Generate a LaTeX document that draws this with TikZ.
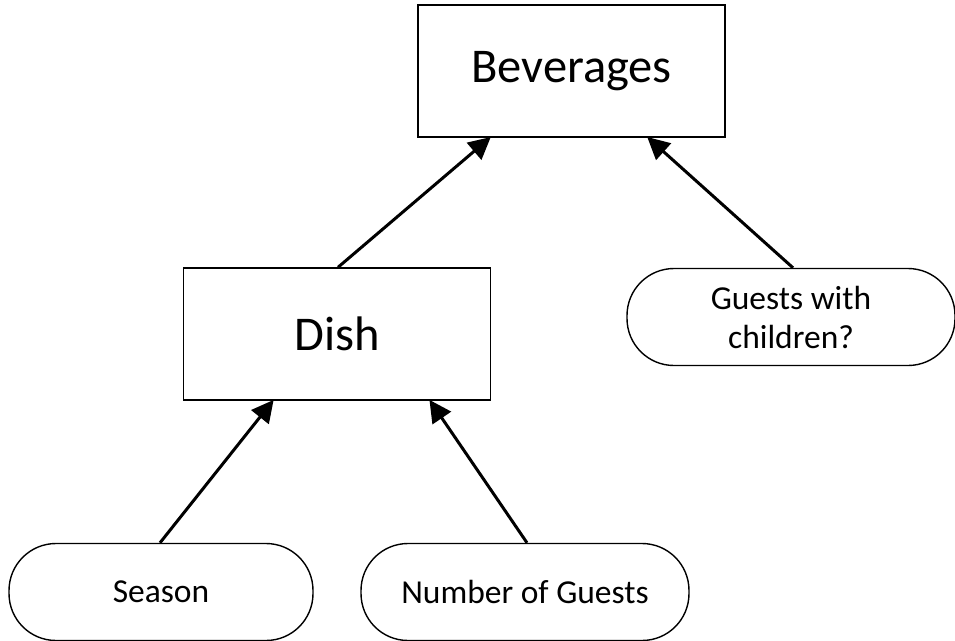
\documentclass[tikz,border=0pt]{standalone}
\usepackage{fontspec}
\setmainfont{Carlito}
\usetikzlibrary{arrows.meta}
\begin{document}
\begin{tikzpicture}[x=1pt,y=-1pt,
  box/.style={draw=black, line width=1.4pt, fill=white, rectangle,
    minimum width=307pt, minimum height=132pt, inner sep=0pt,
    font=\fontsize{48.5}{58}\selectfont},
  pill/.style={draw=black, line width=1.4pt, fill=white, rectangle,
    rounded corners=47pt, minimum width=328pt, minimum height=97pt,
    inner sep=0pt, align=center, font=\fontsize{33.5}{39}\selectfont},
  link/.style={draw=black, line width=3pt,
    -{Triangle[length=22pt,width=22pt]}, shorten >=-1pt}]
\useasboundingbox (0,0) rectangle (955,640);
\node[box] (bev) at (571.5,71) {Beverages};
\node[box] (dish) at (337,334) {Dish};
\node[pill] (kids) at (791,317) {Guests with\\children?};
\node[pill, minimum width=304pt] (season) at (161,592) {Season};
\node[pill] (guests) at (525,592) {Number of Guests};
\draw[link] ([xshift=1pt]dish.north) -- ([xshift=-81.5pt]bev.south);
\draw[link] ([xshift=2pt]kids.north) -- ([xshift=76.5pt]bev.south);
\draw[link] ([xshift=-1pt]season.north) -- ([xshift=-64pt]dish.south);
\draw[link] ([xshift=2pt]guests.north) -- ([xshift=93pt]dish.south);
\end{tikzpicture}
\end{document}
